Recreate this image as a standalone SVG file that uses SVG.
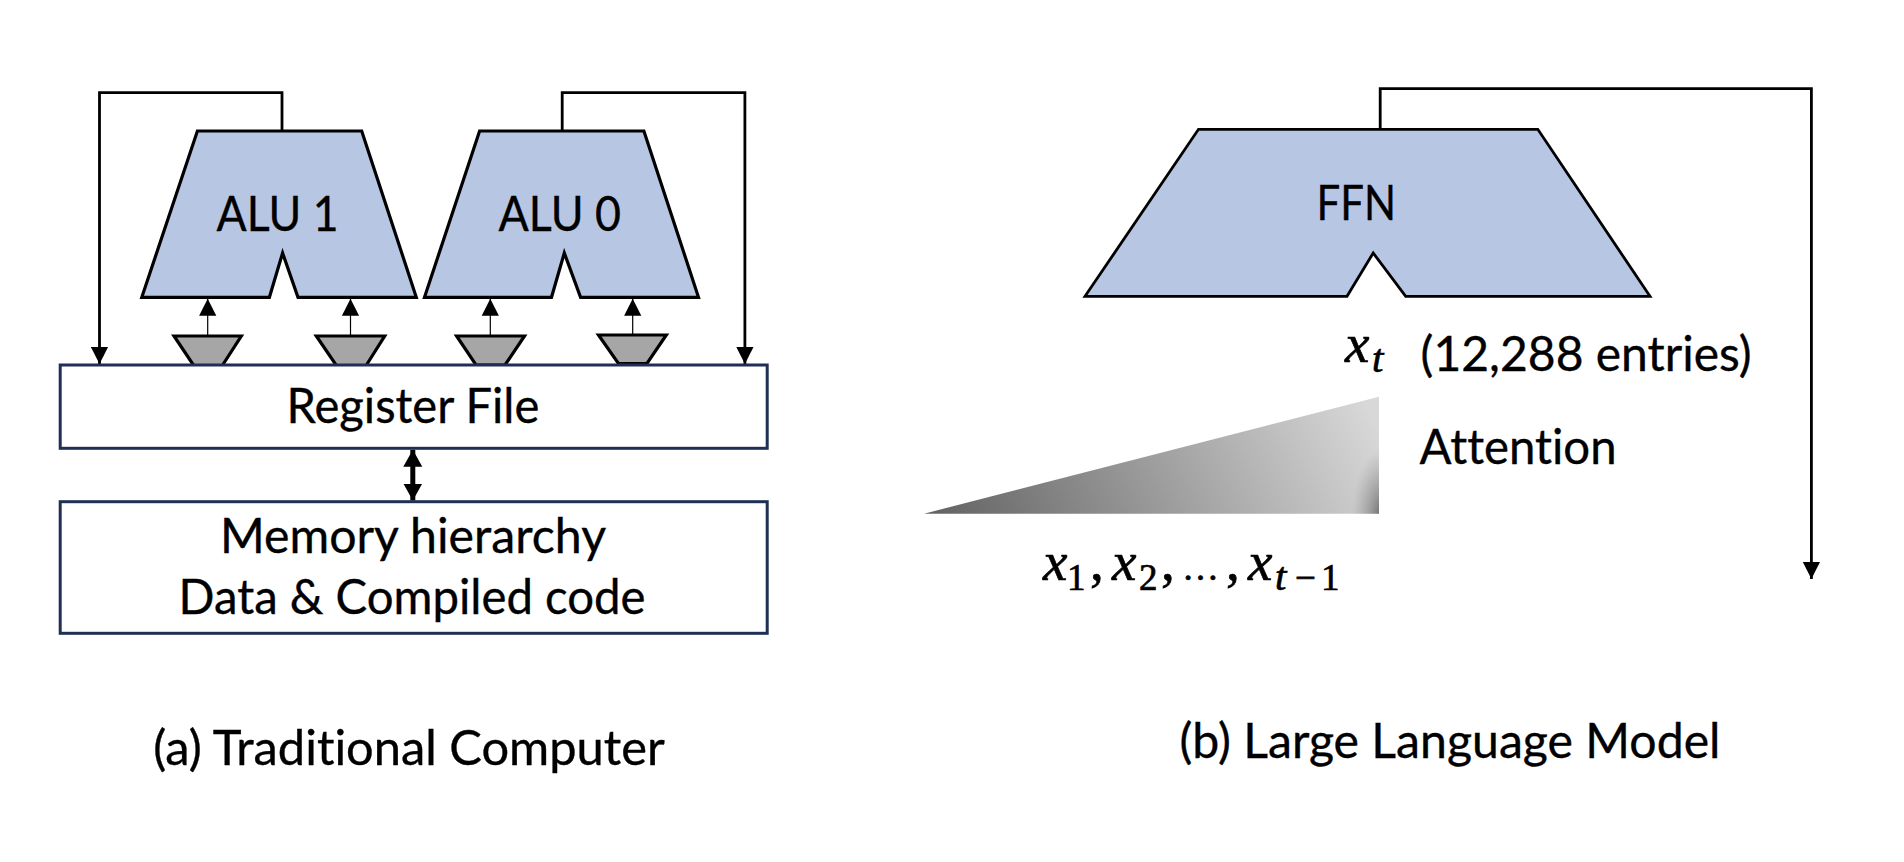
<svg xmlns="http://www.w3.org/2000/svg" width="1904" height="862" viewBox="0 0 1904 862">
<style>
.lbl{font-family:"Lato","Noto Sans","Liberation Sans",sans-serif;font-size:47.5px;fill:#000;stroke:#000;stroke-width:.35;font-variant-ligatures:none}
.math{font-family:"Liberation Serif",serif;font-style:italic;font-size:55px;fill:#000;stroke:#000;stroke-width:.7}
.sub{font-size:37px}
.subt{font-size:41px}
.up{font-style:normal}
.alu{fill:#b7c7e3;stroke:#000;stroke-width:3.2;stroke-linejoin:miter;stroke-miterlimit:10}
.mux{fill:#a6a6a6;stroke:#000;stroke-width:3.2}
.box{fill:#fff;stroke:#1f3054;stroke-width:3}
.wire{fill:none;stroke:#000;stroke-width:2.8}
.thin{fill:none;stroke:#000;stroke-width:1.2}
.thick{fill:none;stroke:#000;stroke-width:5}
</style>
<defs>
<marker id="big" markerUnits="userSpaceOnUse" markerWidth="18" markerHeight="18" refX="17" refY="9" orient="auto"><path d="M0 0.4L17 9L0 17.6Z" fill="#000"/></marker>
<marker id="dbl" markerUnits="userSpaceOnUse" markerWidth="20" markerHeight="20" refX="17" refY="10" orient="auto-start-reverse"><path d="M0 0.5L17 10L0 19.5Z" fill="#000"/></marker>
<linearGradient id="attn" gradientUnits="userSpaceOnUse" x1="960" y1="560" x2="1350" y2="370">
<stop offset="0" stop-color="#646464"/><stop offset="1" stop-color="#d8d8d8"/>
</linearGradient>
<radialGradient id="corner" gradientUnits="userSpaceOnUse" cx="0" cy="0" r="1" gradientTransform="translate(1384 518) scale(32 70)">
<stop offset="0" stop-color="#555" stop-opacity="0.95"/><stop offset="0.4" stop-color="#666" stop-opacity="0.5"/><stop offset="1" stop-color="#888" stop-opacity="0"/>
</radialGradient>
</defs>
<rect width="1904" height="862" fill="#fff"/>

<g id="mux-1"><polygon class="mux" points="174,336 241.3,336 222,366 194,366"/></g>
<g id="mux-2"><polygon class="mux" points="316.3,336 384.7,336 365.8,366 336.7,366"/></g>
<g id="mux-3"><polygon class="mux" points="456.6,336 524.5,336 505,365 476,365"/></g>
<g id="mux-4"><polygon class="mux" points="598.5,335 666.3,335 647,363.5 618.4,363.5"/></g>

<g id="connectors">
<path class="wire" d="M282 131V92.7H99.5V364" marker-end="url(#big)"/>
<path class="wire" d="M562.2 131V92.7H744.9V364" marker-end="url(#big)"/>
<path class="thin" d="M207.7 336V298.7" marker-end="url(#big)"/>
<path class="thin" d="M350.5 336V298.7" marker-end="url(#big)"/>
<path class="thin" d="M490.3 336V298.7" marker-end="url(#big)"/>
<path class="thin" d="M632.7 335V298.7" marker-end="url(#big)"/>
<path class="thick" d="M412.8 449.8V500.5" marker-start="url(#dbl)" marker-end="url(#dbl)"/>
<path class="wire" d="M1380.2 129.3V88.7H1811.4V579" marker-end="url(#big)"/>
</g>

<g id="alu-1">
<polygon class="alu" points="197.4,131 361.7,131 416.3,297.3 298,297.3 282.6,253 269.4,297.3 141.8,297.3"/>
<text class="lbl" x="216.5" y="230.7" textLength="122" lengthAdjust="spacingAndGlyphs">ALU 1</text>
</g>
<g id="alu-0">
<polygon class="alu" points="479.6,131 643.9,131 698.5,297.3 580.6,297.3 564.3,253 551.5,297.3 424.5,297.3"/>
<text class="lbl" x="498.5" y="230.7" textLength="122.5" lengthAdjust="spacingAndGlyphs">ALU 0</text>
</g>
<g id="register-file">
<rect class="box" x="60.2" y="365" width="707" height="83.3"/>
<text class="lbl" x="286.4" y="423.3" textLength="253" lengthAdjust="spacingAndGlyphs">Register File</text>
</g>
<g id="memory-hierarchy">
<rect class="box" x="60.2" y="501.7" width="707" height="131.6"/>
<text class="lbl" x="220" y="552.7" textLength="386" lengthAdjust="spacingAndGlyphs">Memory hierarchy</text>
<text class="lbl" x="178.6" y="614" textLength="467" lengthAdjust="spacingAndGlyphs">Data &amp; Compiled code</text>
</g>
<g id="caption-a"><text class="lbl" x="153.2" y="765" textLength="511.5" lengthAdjust="spacingAndGlyphs">(a) Traditional Computer</text></g>

<g id="ffn">
<polygon class="alu" style="stroke-width:2.8" points="1198.5,129.3 1537.8,129.3 1650,296.3 1405.7,296.3 1373.2,253 1347,296.3 1085,296.3"/>
<text class="lbl" x="1316.5" y="220.3" textLength="79.5" lengthAdjust="spacingAndGlyphs">FFN</text>
</g>
<g id="x-t">
<text class="math"><tspan x="1345" y="361.7">x</tspan><tspan class="subt" x="1372" y="371.7">t</tspan></text>
</g>
<g id="entries"><text class="lbl" x="1420.6" y="371" textLength="331" lengthAdjust="spacingAndGlyphs">(12,288 entries)</text></g>
<g id="attention">
<polygon points="924,513.7 1379,396.7 1379,513.7" fill="url(#attn)"/>
<polygon points="1330,513.7 1379,513.7 1379,412 1330,424.6" fill="url(#corner)"/>
<text class="lbl" x="1419.6" y="464" textLength="197" lengthAdjust="spacingAndGlyphs">Attention</text>
</g>
<g id="history">
<text class="math"><tspan x="1043" y="580">x</tspan><tspan class="sub up" x="1067" y="590">1</tspan><tspan class="up" x="1090" y="580">,</tspan><tspan x="1112" y="580">x</tspan><tspan class="sub up" x="1139" y="590">2</tspan><tspan class="up" x="1161" y="580">,</tspan><tspan class="up" x="1182" y="580" font-size="37">…</tspan><tspan class="up" x="1226" y="580">,</tspan><tspan x="1248" y="580">x</tspan><tspan class="subt" x="1275" y="590">t</tspan><tspan class="sub up" x="1295" y="590">−</tspan><tspan class="sub up" x="1321" y="590">1</tspan></text>
</g>
<g id="caption-b"><text class="lbl" x="1179.5" y="757.7" textLength="541" lengthAdjust="spacingAndGlyphs">(b) Large Language Model</text></g>
</svg>
